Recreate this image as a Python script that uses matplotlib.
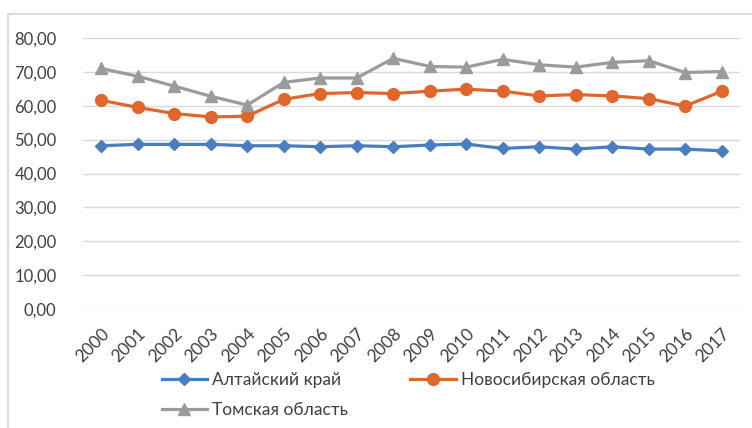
import matplotlib
matplotlib.use('Agg')
import matplotlib.pyplot as plt
from matplotlib.patches import Rectangle

plt.rcParams['font.family'] = ['Lato', 'DejaVu Sans']

years = [str(y) for y in range(2000, 2018)]
altai = [48.2, 48.6, 48.6, 48.6, 48.2, 48.2, 47.9, 48.2, 47.9,
         48.4, 48.7, 47.4, 47.9, 47.2, 47.9, 47.2, 47.2, 46.7]
novosib = [61.6, 59.5, 57.7, 56.7, 56.9, 61.9, 63.6, 63.9, 63.6,
           64.3, 64.9, 64.3, 62.9, 63.3, 62.9, 62.1, 59.9, 64.3]
tomsk = [71.0, 68.7, 65.8, 62.8, 60.2, 66.9, 68.2, 68.2, 74.0,
         71.6, 71.4, 73.7, 72.1, 71.4, 72.8, 73.3, 69.8, 70.1]
series_names = ['Алтайский край', 'Новосибирская область', 'Томская область']

fig = plt.figure(figsize=(7.52, 4.28), dpi=100)
# outer chart frame
fig.patches.append(Rectangle((8/752, -0.1), 1.2, 1 - 14/428 + 0.1,
                             transform=fig.transFigure, fill=False,
                             edgecolor='#d4d4d4', lw=1.2))

ax = fig.add_axes([83/752, 1 - 309/428, (740 - 83)/752, (309 - 38)/428])
x = list(range(len(years)))
l1, = ax.plot(x, altai, color='#4a7ebf', lw=2.3, marker='D', ms=6.5, label=series_names[0])
l2, = ax.plot(x, novosib, color='#e0672c', lw=2.3, marker='o', ms=8.5, label=series_names[1])
l3, = ax.plot(x, tomsk, color='#9b9b9b', lw=2.3, marker='^', ms=8.5, label=series_names[2])

ax.set_xlim(-0.5, len(years) - 0.5)
ax.set_ylim(0, 80)
ax.set_yticks(range(0, 81, 10))
ax.set_yticklabels(['%d,00' % v for v in range(0, 81, 10)], fontsize=12, color='#404040')
ax.set_xticks(x)
ax.set_xticklabels(years, rotation=45, ha='right', va='top', rotation_mode='anchor',
                   fontsize=12.5, color='#404040')
ax.tick_params(axis='both', length=0)
ax.tick_params(axis='y', pad=19)
ax.tick_params(axis='x', pad=12)
ax.grid(axis='y', color='#d9d9d9', lw=1)
ax.set_axisbelow(True)
for s in ax.spines.values():
    s.set_visible(False)

# legend filled column by column: Altai and Tomsk on the left, Novosibirsk on the right
fig.legend([l1, l3, l2], [series_names[0], series_names[2], series_names[1]],
           ncol=2, loc='upper left', bbox_to_anchor=(146/752, 1 - 356/428),
           frameon=False, fontsize=12.5, handlelength=2.6, handletextpad=0.3,
           columnspacing=3.6, labelspacing=0.85, labelcolor='#404040')

fig.savefig('out.png', dpi=100)
